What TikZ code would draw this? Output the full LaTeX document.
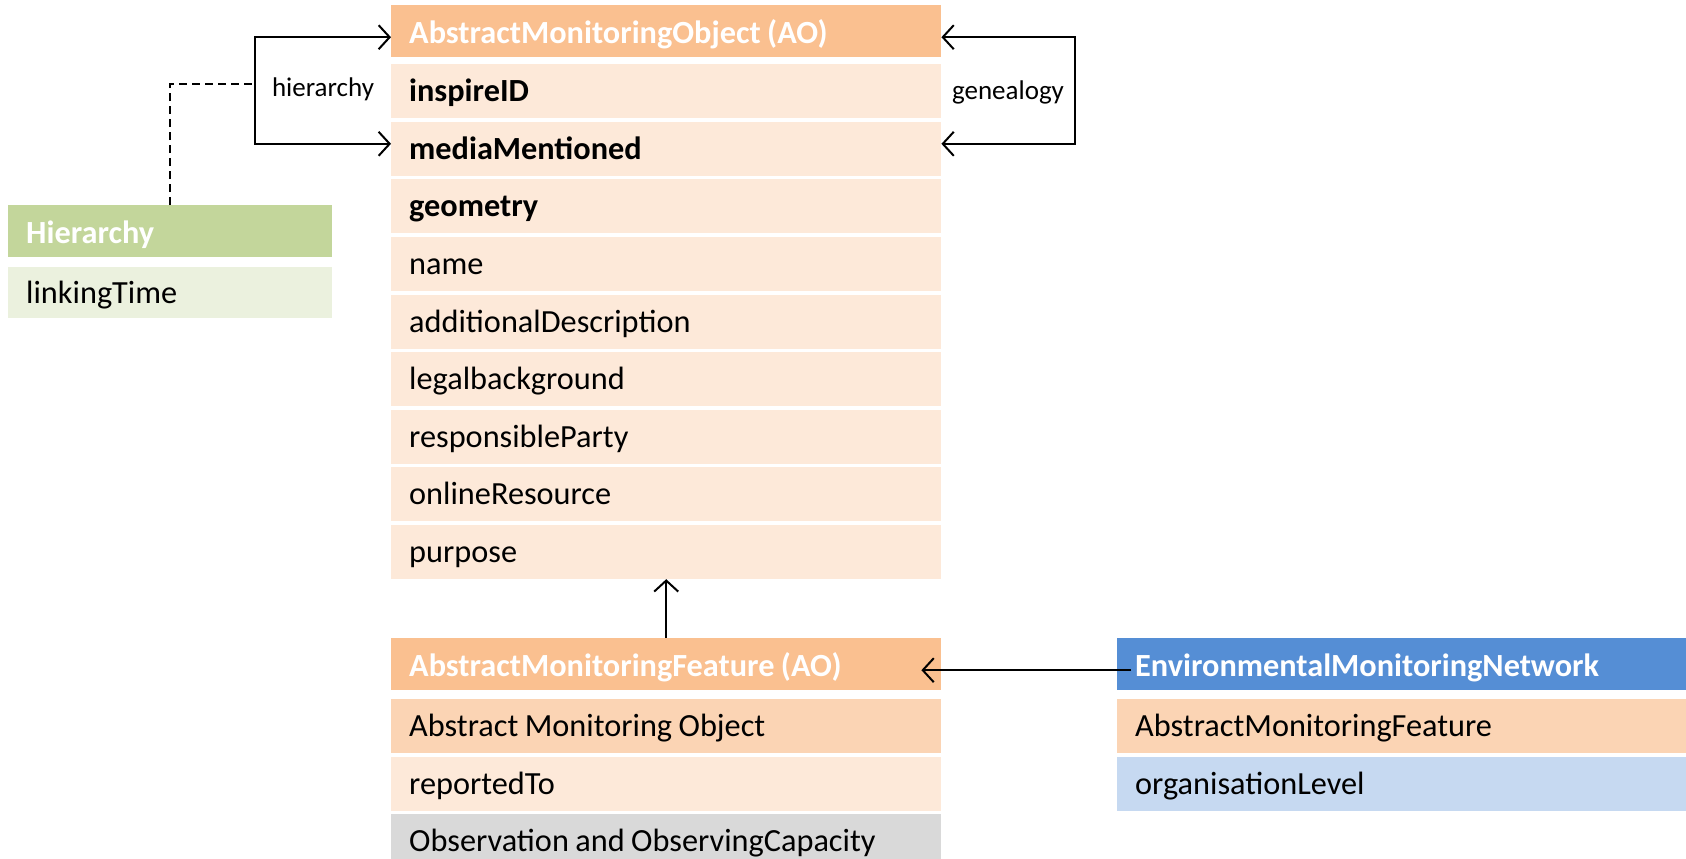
\documentclass[tikz,border=0pt]{standalone}
\usepackage{fontspec}
\setmainfont{Carlito}
\usetikzlibrary{arrows.meta}
\definecolor{aohead}{HTML}{FAC090}
\definecolor{aorow}{HTML}{FDE9D9}
\definecolor{aomid}{HTML}{FBD4B4}
\definecolor{obsrow}{HTML}{D9D9D9}
\definecolor{hihead}{HTML}{C3D69B}
\definecolor{hirow}{HTML}{EBF1DE}
\definecolor{nethead}{HTML}{558ED5}
\definecolor{netrow}{HTML}{C6D9F1}
\tikzset{
  barb/.tip={Straight Barb[length=11pt,width=24pt,line width=2pt]},
  cell/.style={rectangle, anchor=north west, inner xsep=18pt, inner ysep=0pt,
    execute at begin node={\raggedright\spaceskip=0.2em\relax},
    minimum height=54pt, text height=24pt, text depth=3pt, font=\fontsize{32.3}{38}\selectfont},
  head/.style={cell, minimum height=52pt, text depth=0pt, font=\fontsize{32.3}{38}\selectfont\bfseries, text=white},
  lab/.style={font=\fontsize{27}{32}\selectfont},
  arr/.style={line width=2pt, -barb},
}
\begin{document}
\begin{tikzpicture}[x=1pt,y=-1pt]
\useasboundingbox (0,0) rectangle (1686,859);
% AbstractMonitoringObject
\node[head, fill=aohead, text width=514pt] (ao) at (391,5) {AbstractMonitoringObject (AO)};
\foreach \txt [count=\i] in {\textbf{inspireID}, \textbf{mediaMentioned}, \textbf{geometry}, name,
    additionalDescription, legalbackground, responsibleParty, onlineResource, purpose}
  \node[cell, fill=aorow, text width=514pt] (r\i) at (391,{64+57.6*(\i-1)}) {\txt};
% AbstractMonitoringFeature
\node[head, fill=aohead, text width=514pt] (amf) at (391,638) {AbstractMonitoringFeature (AO)};
\node[cell, fill=aomid, text width=514pt] (amf1) at (391,699) {Abstract Monitoring Object};
\node[cell, fill=aorow, text width=514pt] (amf2) at (391,756.6) {reportedTo};
\node[cell, fill=obsrow, text width=514pt] (amf3) at (391,814.2) {Observation and ObservingCapacity};
% Hierarchy
\node[head, fill=hihead, text width=288pt] (hi) at (8,205) {Hierarchy};
\node[cell, fill=hirow, text width=288pt, minimum height=51pt] (hi1) at (8,267) {linkingTime};
% EnvironmentalMonitoringNetwork
\node[head, fill=nethead, text width=560pt] (emn) at (1117,638) {EnvironmentalMonitoringNetwork};
\node[cell, fill=aomid, text width=560pt] (emn1) at (1117,699) {AbstractMonitoringFeature};
\node[cell, fill=netrow, text width=560pt] (emn2) at (1117,756.6) {organisationLevel};
% links
\draw[arr, barb-barb] ([yshift=-6pt]ao.west) -- +(-136,0) |- ([yshift=5pt]r2.west);
\draw[arr, barb-barb] ([yshift=-6pt]ao.east) -- +(134,0) |- ([yshift=5pt]r2.east);
\coordinate (hjoin) at (255,84);
\draw[line width=2pt, dash pattern=on 8pt off 5pt] (hi.north) |- (hjoin);
\node[lab] (hlab) at (323,89) {hierarchy};
\node[lab] (glab) at (1008,92) {genealogy};
\draw[arr] (amf.north) -- (r9.south);
\draw[arr] ([xshift=14pt,yshift=-6pt]emn.west) -- ([xshift=-20pt,yshift=-6pt]amf.east);
\end{tikzpicture}
\end{document}
